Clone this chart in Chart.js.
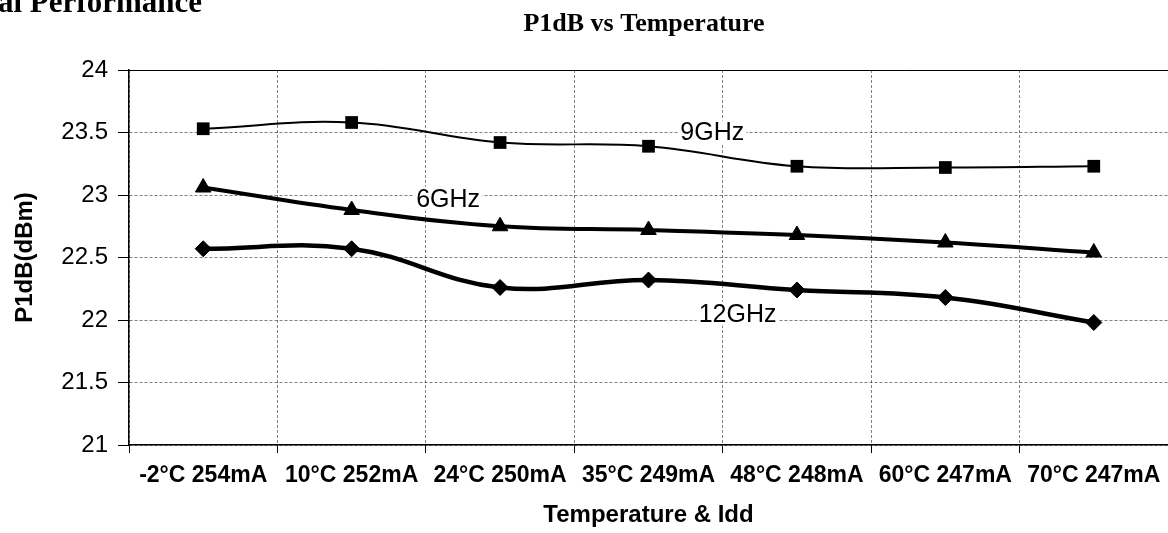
<!DOCTYPE html>
<html>
<head>
<meta charset="utf-8">
<script src="https://cdn.jsdelivr.net/npm/chart.js@4.4.1/dist/chart.umd.min.js"></script>
<style>
  html, body { margin: 0; padding: 0; background: #fff; overflow: hidden; }
</style>
</head>
<body>
<canvas id="p1dbChart" width="1168" height="533"></canvas>
<script>
// ---------------- DATA ----------------
const conditions = ['-2°C 254mA', '10°C 252mA', '24°C 250mA', '35°C 249mA', '48°C 248mA', '60°C 247mA', '70°C 247mA'];
const p1dB9GHz  = [23.53, 23.58, 23.42, 23.39, 23.23, 23.22, 23.23];
const p1dB6GHz  = [23.06, 22.88, 22.75, 22.72, 22.68, 22.62, 22.54];
const p1dB12GHz = [22.57, 22.57, 22.26, 22.32, 22.24, 22.18, 21.98];
const yMin = 21, yMax = 24, yStep = 0.5;

const SANS = "'Liberation Sans', Arial, sans-serif";
const SERIF = "'Liberation Serif', 'Times New Roman', serif";

// in-chart series names, anchored in data units (category index, dBm)
const seriesTags = [
    { text: '9GHz',  x: 3.43, y: 23.50 },
    { text: '6GHz',  x: 1.65, y: 22.97 },
    { text: '12GHz', x: 3.60, y: 22.05 }
];

// ---------------- PLUGIN ----------------
const extras = {
    id: 'extras',
    beforeDraw(chart) {
        const ctx = chart.ctx;
        ctx.save();
        ctx.fillStyle = '#fff';
        ctx.fillRect(0, 0, chart.width, chart.height);
        ctx.restore();
    },
    afterDraw(chart) {
        const ctx = chart.ctx;
        const area = chart.chartArea;
        const xs = chart.scales.x, ys = chart.scales.y;
        ctx.save();

        // top frame line (24 dBm)
        ctx.strokeStyle = '#000';
        ctx.lineWidth = 1;
        ctx.beginPath();
        ctx.moveTo(area.left - 11, area.top + 0.5);
        ctx.lineTo(area.right, area.top + 0.5);
        ctx.stroke();

        // page header fragment and chart title
        ctx.fillStyle = '#000';
        ctx.textBaseline = 'alphabetic';
        ctx.textAlign = 'left';
        ctx.font = 'bold 31px ' + SERIF;
        ctx.fillText('al Performance', -2, 12);

        ctx.textAlign = 'center';
        ctx.textBaseline = 'middle';
        ctx.font = 'bold 26px ' + SERIF;
        ctx.fillText('P1dB vs Temperature', 644, 24);

        // series names
        ctx.font = '25px ' + SANS;
        seriesTags.forEach(t => {
            const px = xs.getPixelForValue(t.x);
            const py = ys.getPixelForValue(t.y);
            const w = ctx.measureText(t.text).width;
            ctx.fillStyle = '#fff';
            ctx.fillRect(px - w / 2 - 2, py - 12, w + 4, 24);
            ctx.fillStyle = '#000';
            ctx.fillText(t.text, px, py + 1);
        });
        ctx.restore();
    }
};

// ---------------- CONFIG ----------------
const data = {
    labels: conditions,
    datasets: [{
        label: '9GHz',
        data: p1dB9GHz,
        borderColor: '#000',
        backgroundColor: '#000',
        borderWidth: 2,
        tension: 0.4,
        pointStyle: 'rect',
        pointRadius: 9,
        pointBorderWidth: 0
    }, {
        label: '6GHz',
        data: p1dB6GHz,
        borderColor: '#000',
        backgroundColor: '#000',
        borderWidth: 4,
        tension: 0.4,
        pointStyle: 'triangle',
        pointRadius: 9,
        pointBorderWidth: 1
    }, {
        label: '12GHz',
        data: p1dB12GHz,
        borderColor: '#000',
        backgroundColor: '#000',
        borderWidth: 4.5,
        tension: 0.4,
        pointStyle: 'rectRot',
        pointRadius: 8,
        pointBorderWidth: 1
    }]
};

const config = {
    type: 'line',
    data,
    options: {
        responsive: false,
        animation: false,
        devicePixelRatio: 1,
        layout: { autoPadding: false, padding: { top: 70, left: 0, right: 0, bottom: 0 } },
        plugins: {
            legend: { display: false },
            title: { display: false },
            tooltip: { enabled: false }
        },
        scales: {
            x: {
                offset: true,
                afterFit: scale => {
                    scale.height = 88;
                    scale.paddingLeft = 0;
                    scale.paddingRight = 0;
                },
                grid: {
                    offset: true,
                    color: 'rgba(0,0,0,0.5)',
                    lineWidth: 1,
                    tickLength: 8,
                    tickColor: '#000'
                },
                border: { display: true, color: '#000', width: 1.5, dash: [3, 2] },
                ticks: {
                    color: '#000',
                    font: { family: SANS, size: 23, weight: 'bold' },
                    padding: 9,
                    autoSkip: false,
                    maxRotation: 0,
                    minRotation: 0
                },
                title: {
                    display: true,
                    text: 'Temperature & Idd',
                    color: '#000',
                    font: { family: SANS, size: 24, weight: 'bold' },
                    padding: { top: 0, bottom: 3 }
                }
            },
            y: {
                min: yMin,
                max: yMax,
                afterFit: scale => { scale.width = 129; },
                grid: {
                    color: 'rgba(0,0,0,0.5)',
                    lineWidth: 1,
                    tickLength: 11,
                    tickColor: '#000'
                },
                border: { display: true, color: '#000', width: 1.5, dash: [3, 2] },
                ticks: {
                    stepSize: yStep,
                    color: '#000',
                    font: { family: SANS, size: 24 },
                    padding: 10,
                    callback: v => String(v)
                },
                title: {
                    display: true,
                    text: 'P1dB(dBm)',
                    color: '#000',
                    font: { family: SANS, size: 24, weight: 'bold' },
                    padding: { top: 11, bottom: 0 }
                }
            }
        }
    },
    plugins: [extras]
};

const p1dbChart = new Chart(document.getElementById('p1dbChart').getContext('2d'), config);
</script>
</body>
</html>
